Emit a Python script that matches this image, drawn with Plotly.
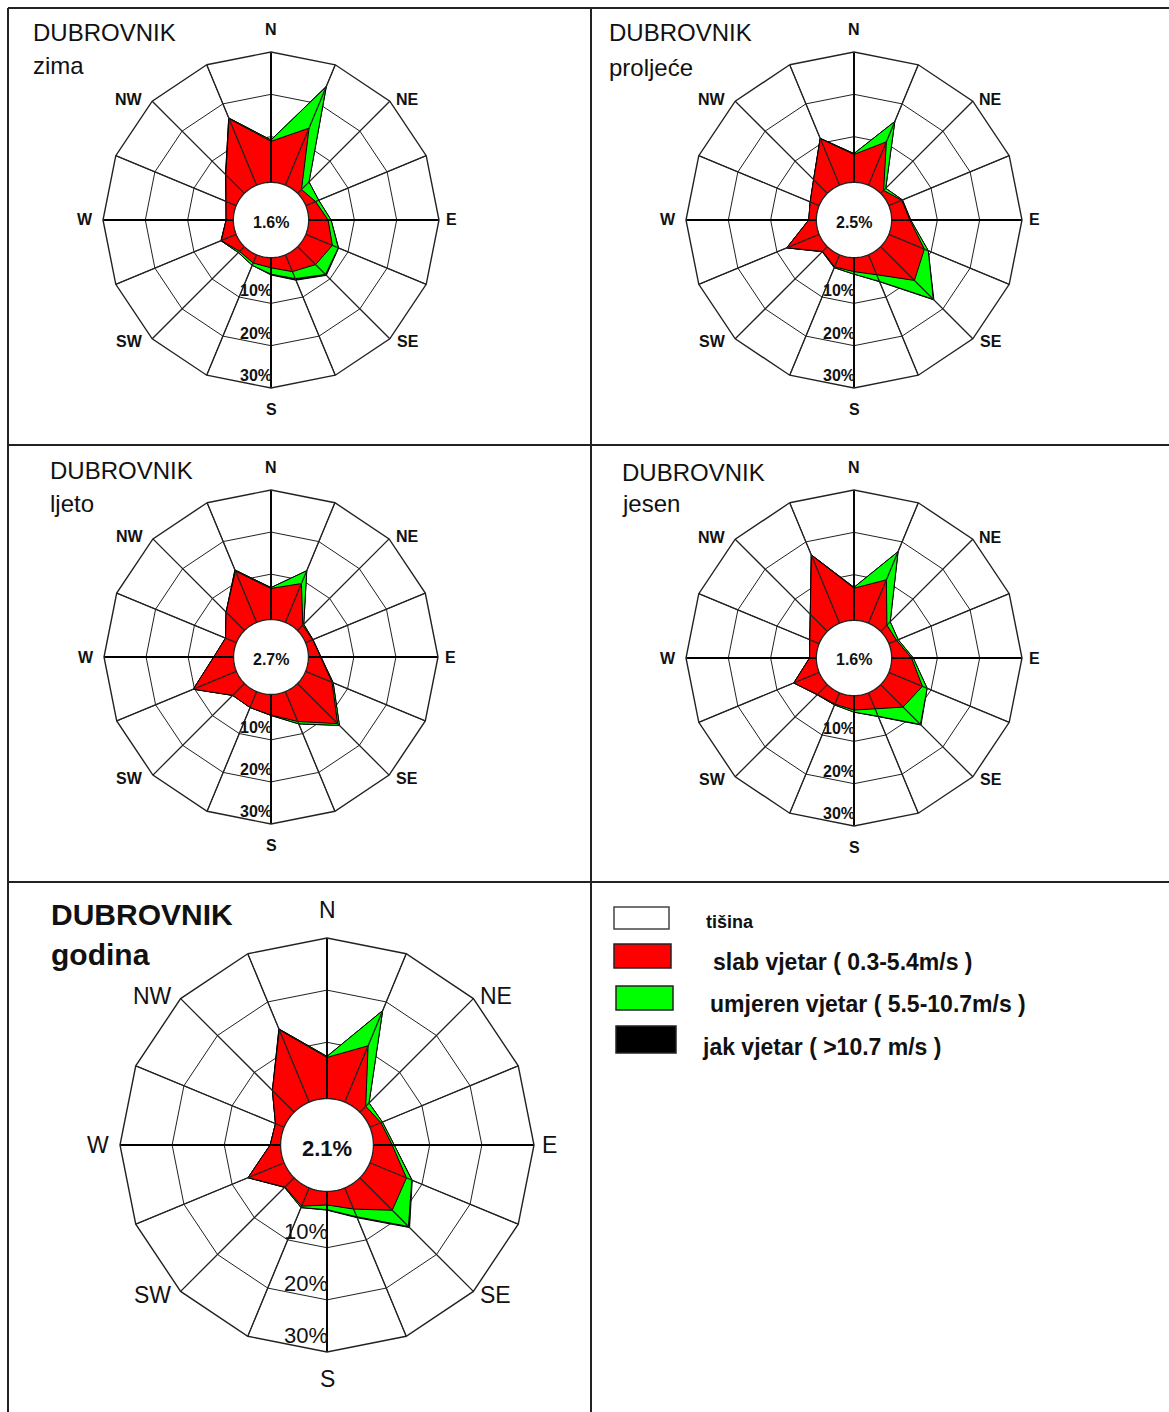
import plotly.graph_objects as go
import numpy as np

W, H = 1169, 1412
FONT = "Liberation Sans, Arial, sans-serif"

# ---------------- data ----------------
DIRECTIONS = ["N", "NNE", "NE", "ENE", "E", "ESE", "SE", "SSE",
              "S", "SSW", "SW", "WSW", "W", "WNW", "NW", "NNW"]
MAIN_DIRECTIONS = ["N", "NE", "E", "SE", "S", "SW", "W", "NW"]
RING_VALUES = [10, 20, 30]
RING_LABELS = ["10%", "20%", "30%"]

STATION = "DUBROVNIK"
SEASONS = ["zima", "proljeće", "ljeto", "jesen", "godina"]
CALM = [1.6, 2.5, 2.7, 1.6, 2.1]  # tišina (%)

zima_slab     = [8.9, 13.8, 0.5, 1.7, 3.8, 6.0, 5.2, 3.5, 1.6, 1.3, 0.8, 3.0, 0.9, 1.8, 5.4, 16.2]
zima_umjeren  = [0.3, 10.6, 2.5, 0.8, 0.7, 1.5, 3.3, 1.8, 1.5, 0.6, 0.4, 0.1, 0.0, 0.0, 0.1, 0.2]
zima_jak      = [0.0, 0.1, 0.0, 0.0, 0.0, 0.1, 0.3, 0.4, 0.2, 0.0, 0.0, 0.0, 0.0, 0.0, 0.0, 0.0]

proljece_slab    = [5.8, 10.3, 0.2, 2.5, 3.5, 8.3, 10.5, 4.3, 2.5, 2.3, 0.8, 7.5, 1.0, 1.5, 3.8, 11.1]
proljece_umjeren = [0.2, 5.2, 0.7, 0.2, 0.2, 1.0, 6.3, 1.7, 0.6, 0.2, 0.1, 0.0, 0.0, 0.0, 0.0, 0.1]
proljece_jak     = [0.0, 0.0, 0.0, 0.0, 0.0, 0.0, 0.2, 0.1, 0.0, 0.0, 0.0, 0.0, 0.0, 0.0, 0.0, 0.0]

ljeto_slab    = [6.6, 9.2, 1.0, 1.0, 2.1, 6.0, 12.7, 6.9, 4.1, 3.3, 3.2, 10.3, 3.9, 2.0, 5.4, 12.4]
ljeto_umjeren = [0.2, 3.3, 0.3, 0.1, 0.1, 0.3, 0.6, 0.6, 0.1, 0.0, 0.0, 0.0, 0.0, 0.0, 0.0, 0.3]
ljeto_jak     = [0.0] * 16

jesen_slab    = [6.8, 10.3, 1.3, 1.2, 3.9, 7.8, 6.7, 3.3, 2.6, 2.1, 2.5, 5.7, 0.8, 1.6, 4.9, 16.6]
jesen_umjeren = [0.2, 7.2, 1.1, 0.4, 0.4, 1.2, 5.8, 1.9, 0.5, 0.2, 0.1, 0.0, 0.0, 0.0, 0.0, 0.1]
jesen_jak     = [0.0, 0.0, 0.0, 0.0, 0.0, 0.0, 0.2, 0.1, 0.0, 0.0, 0.0, 0.0, 0.0, 0.0, 0.0, 0.0]

godina_slab    = [7.1, 10.9, 0.8, 1.5, 2.8, 6.8, 8.0, 3.6, 1.8, 3.0, 1.7, 6.7, 1.2, 1.0, 5.1, 14.2]
godina_umjeren = [0.2, 7.3, 0.9, 0.3, 0.4, 1.1, 4.4, 1.6, 0.9, 0.3, 0.1, 0.0, 0.0, 0.0, 0.0, 0.2]
godina_jak     = [0.0, 0.0, 0.0, 0.0, 0.0, 0.1, 0.3, 0.2, 0.1, 0.0, 0.0, 0.0, 0.0, 0.0, 0.0, 0.0]

LEGEND_LABELS = ["tišina", "slab vjetar ( 0.3-5.4m/s )",
                 "umjeren vjetar ( 5.5-10.7m/s )", "jak vjetar ( >10.7 m/s )"]
LEGEND_COLORS = ["#FFFFFF", "#FF0000", "#00FF00", "#000000"]

# ---------------- styling / geometry ----------------
RMIN, RMAX = -9.7, 30.0
CALM_R = -0.8
RED, GREEN, BLACK = "#FF0000", "#00FF00", "#000000"
GRID = "#222222"
TXT = "#111111"

GEOM = [
    dict(cx=271, cy=220, R=168, tx=31, ty1=33, ty2=66, big=False),
    dict(cx=854, cy=220, R=168, tx=607, ty1=33, ty2=67, big=False),
    dict(cx=271, cy=657, R=167, tx=48, ty1=471, ty2=503, big=False),
    dict(cx=854, cy=658, R=168, tx=620, ty1=472, ty2=503, big=False),
    dict(cx=327, cy=1145, R=207, tx=49, ty1=914, ty2=954, big=True),
]
DATA = [
    (zima_slab, zima_umjeren, zima_jak),
    (proljece_slab, proljece_umjeren, proljece_jak),
    (ljeto_slab, ljeto_umjeren, ljeto_jak),
    (jesen_slab, jesen_umjeren, jesen_jak),
    (godina_slab, godina_umjeren, godina_jak),
]
# label placement (in units of the outer radius) for the compass labels
LABEL_POS = {"N": (0, -1.135), "NE": (0.815, -0.72), "E": (1.075, 0), "SE": (0.815, 0.725),
             "S": (0, 1.13), "SW": (-0.845, 0.725), "W": (-1.105, 0), "NW": (-0.845, -0.72)}


def fx(x):
    return x / W


def fy(y):
    return 1 - y / H


def rpx(r, R):
    return (r - RMIN) / (RMAX - RMIN) * R


fig = go.Figure()
annotations = []
shapes = []
layout_polars = {}

for i, (season, calm, (slab, umj, jak), g) in enumerate(zip(SEASONS, CALM, DATA, GEOM)):
    pa = "polar" if i == 0 else f"polar{i + 1}"
    pb = f"polar{i + 6}"
    cx, cy, R, big = g["cx"], g["cy"], g["R"], g["big"]
    dom = dict(x=[fx(cx - R), fx(cx + R)], y=[fy(cy + R), fy(cy - R)])

    green_cum = [a + b for a, b in zip(slab, umj)]
    jak_cum = [a + b for a, b in zip(green_cum, jak)]
    th = DIRECTIONS + DIRECTIONS[:1]

    for vals, col in ((jak_cum, BLACK), (green_cum, GREEN), (slab, RED)):
        fig.add_trace(go.Scatterpolar(
            r=vals + vals[:1], theta=th, subplot=pa, mode="lines",
            fill="toself", fillcolor=col, line=dict(color="#000000", width=1),
            hoverinfo="skip", showlegend=False))

    # spokes drawn above the filled areas
    minor_r, minor_t, major_r, major_t = [], [], [], []
    for d in DIRECTIONS:
        if d in ("N", "E", "S", "W"):
            major_r += [CALM_R, RMAX, None]
            major_t += [d, d, None]
        else:
            minor_r += [CALM_R, RMAX, None]
            minor_t += [d, d, None]
    fig.add_trace(go.Scatterpolar(r=minor_r, theta=minor_t, subplot=pa, mode="lines",
                                  line=dict(color=GRID, width=1.3), hoverinfo="skip",
                                  showlegend=False, connectgaps=False))
    fig.add_trace(go.Scatterpolar(r=major_r, theta=major_t, subplot=pa, mode="lines",
                                  line=dict(color="#000000", width=1.9), hoverinfo="skip",
                                  showlegend=False, connectgaps=False))

    # calm circle (tišina)
    ct = np.linspace(0, 360, 145)
    fig.add_trace(go.Scatterpolar(r=[CALM_R] * len(ct), theta=ct, subplot=pb, mode="lines",
                                  fill="toself", fillcolor="#FFFFFF",
                                  line=dict(color=GRID, width=1.3), hoverinfo="skip",
                                  showlegend=False))

    layout_polars[pa] = dict(
        domain=dom, bgcolor="#FFFFFF", gridshape="linear",
        angularaxis=dict(type="category", categoryorder="array", categoryarray=DIRECTIONS,
                         rotation=90, direction="clockwise", tickmode="array",
                         tickvals=DIRECTIONS, showticklabels=False, ticks="",
                         showline=True, linecolor=GRID, linewidth=1.4,
                         showgrid=True, gridcolor=GRID, gridwidth=1.3),
        radialaxis=dict(range=[RMIN, RMAX], tickmode="array", tickvals=RING_VALUES,
                        showticklabels=False, ticks="", showline=False,
                        showgrid=True, gridcolor=GRID, gridwidth=1.3),
    )
    layout_polars[pb] = dict(
        domain=dom, bgcolor="rgba(0,0,0,0)",
        angularaxis=dict(visible=False, rotation=90, direction="clockwise"),
        radialaxis=dict(visible=False, range=[RMIN, RMAX]),
    )

    # compass labels
    lab_size = 23 if big else 16
    for d in MAIN_DIRECTIONS:
        ox, oy = LABEL_POS[d]
        annotations.append(dict(x=fx(cx + ox * R), y=fy(cy + oy * R), xref="paper", yref="paper",
                                text=d, showarrow=False, xanchor="center", yanchor="middle",
                                font=dict(family=FONT, size=lab_size, color=TXT,
                                          weight="normal" if big else "bold")))

    # titles
    tsize = 30 if big else 24
    for txt, ty in ((STATION, g["ty1"]), (season, g["ty2"])):
        annotations.append(dict(x=fx(g["tx"]), y=fy(ty), xref="paper", yref="paper",
                                text=txt, showarrow=False, xanchor="left", yanchor="middle",
                                font=dict(family=FONT, size=tsize, color=TXT,
                                          weight="bold" if big else "normal")))
    # calm value
    annotations.append(dict(x=fx(cx), y=fy(cy + (3 if big else 2)), xref="paper", yref="paper",
                            text=f"{calm:.1f}%", showarrow=False, xanchor="center",
                            yanchor="middle",
                            font=dict(family=FONT, size=22 if big else 16, color=TXT,
                                      weight="bold")))
    # ring labels along the S axis
    for rv, rl in zip(RING_VALUES, RING_LABELS):
        annotations.append(dict(x=fx(cx + 3), y=fy(cy + rpx(rv, R) - 2),
                                xref="paper", yref="paper", text=rl, showarrow=False,
                                xanchor="right", yanchor="bottom",
                                font=dict(family=FONT, size=22 if big else 16, color=TXT,
                                          weight="normal" if big else "bold")))

# legend (drawn manually as in the reference)
LEG_BOXES = [(614, 907, 669, 929), (614, 944, 671, 968), (616, 986, 673, 1010), (616, 1026, 676, 1053)]
LEG_TEXT = [(704, 922, 18), (711, 962, 23), (708, 1004, 23), (700, 1047, 23)]
for (x0, y0, x1, y1), col, (tx, ty, ts), lab in zip(LEG_BOXES, LEGEND_COLORS, LEG_TEXT, LEGEND_LABELS):
    shapes.append(dict(type="rect", xref="paper", yref="paper",
                       x0=fx(x0), x1=fx(x1), y0=fy(y1), y1=fy(y0),
                       fillcolor=col, line=dict(color="#444444" if col == "#FFFFFF" else "#222222",
                                                width=1.5)))
    annotations.append(dict(x=fx(tx), y=fy(ty), xref="paper", yref="paper", text=lab,
                            showarrow=False, xanchor="left", yanchor="middle",
                            font=dict(family=FONT, size=ts, color=TXT, weight="bold")))

# table borders
BORDER = "#222222"
for (x0, y0, x1, y1) in [(8, 8, 1169, 8), (8, 445, 1169, 445), (8, 882, 1169, 882),
                         (8, 8, 8, 1412), (591, 8, 591, 1412)]:
    shapes.append(dict(type="line", xref="paper", yref="paper",
                       x0=fx(x0), x1=fx(x1), y0=fy(y0), y1=fy(y1),
                       line=dict(color=BORDER, width=2)))

fig.update_layout(
    width=W, height=H, margin=dict(l=0, r=0, t=0, b=0),
    paper_bgcolor="#FFFFFF", plot_bgcolor="#FFFFFF", showlegend=False,
    font=dict(family=FONT, color=TXT),
    annotations=annotations, shapes=shapes, **layout_polars,
)

fig.write_html("out.html", config={"displayModeBar": False},
               post_script="document.body.style.margin='0px';document.body.style.overflow='hidden';")
